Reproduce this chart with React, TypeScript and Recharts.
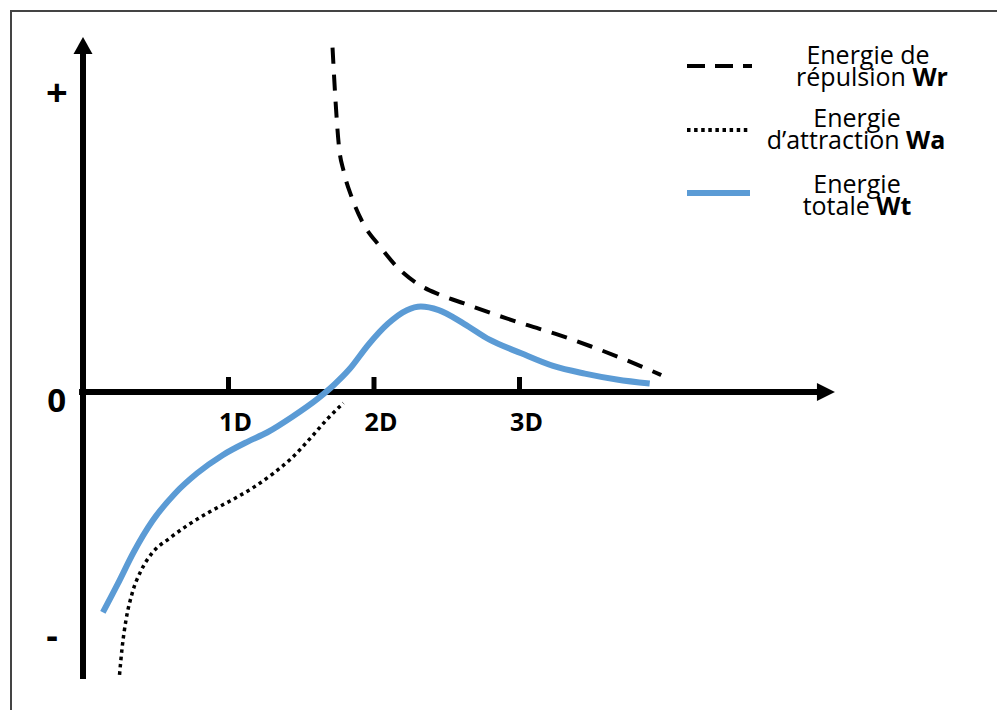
import { LineChart, Line, XAxis, YAxis, ReferenceLine, ReferenceDot } from 'recharts'

// distances in units of D, energies in arbitrary units
const repulsion = [
  { x: 1.715, y: 3.444 }, { x: 1.737, y: 2.878 }, { x: 1.758, y: 2.471 }, { x: 1.793, y: 2.199 },
  { x: 1.846, y: 1.95 }, { x: 1.92, y: 1.701 }, { x: 2.043, y: 1.452 }, { x: 2.16, y: 1.248 },
  { x: 2.292, y: 1.089 }, { x: 2.445, y: 0.976 }, { x: 2.619, y: 0.886 }, { x: 2.838, y: 0.772 },
  { x: 3.056, y: 0.668 }, { x: 3.274, y: 0.569 }, { x: 3.493, y: 0.455 }, { x: 3.733, y: 0.319 },
  { x: 3.974, y: 0.17 },
]

const attraction = [
  { x: 0.251, y: -2.828 }, { x: 0.269, y: -2.556 }, { x: 0.295, y: -2.285 }, { x: 0.338, y: -2.013 },
  { x: 0.399, y: -1.787 }, { x: 0.478, y: -1.605 }, { x: 0.588, y: -1.47 }, { x: 0.718, y: -1.334 },
  { x: 0.871, y: -1.198 }, { x: 1.046, y: -1.062 }, { x: 1.177, y: -0.949 }, { x: 1.309, y: -0.813 },
  { x: 1.439, y: -0.654 }, { x: 1.57, y: -0.45 }, { x: 1.68, y: -0.269 }, { x: 1.789, y: -0.111 },
]

const total = [
  { x: 0.137, y: -2.203 }, { x: 0.238, y: -1.922 }, { x: 0.347, y: -1.605 }, { x: 0.478, y: -1.288 },
  { x: 0.631, y: -1.017 }, { x: 0.784, y: -0.813 }, { x: 0.959, y: -0.632 }, { x: 1.133, y: -0.496 },
  { x: 1.265, y: -0.405 }, { x: 1.439, y: -0.247 }, { x: 1.614, y: -0.066 }, { x: 1.724, y: 0.07 },
  { x: 1.832, y: 0.229 }, { x: 1.964, y: 0.478 }, { x: 2.095, y: 0.682 }, { x: 2.226, y: 0.818 },
  { x: 2.322, y: 0.854 }, { x: 2.445, y: 0.818 }, { x: 2.619, y: 0.682 }, { x: 2.794, y: 0.523 },
  { x: 3.012, y: 0.387 }, { x: 3.231, y: 0.261 }, { x: 3.449, y: 0.184 }, { x: 3.668, y: 0.125 },
  { x: 3.895, y: 0.084 },
]

const xTicks = [1, 2, 3]
const xTickLabels = ['1D', '2D', '3D']

const signLabels = [
  { x: -0.18, y: 3.0, text: '+', size: 38 },
  { x: -0.18, y: -0.08, text: '0', size: 33 },
  { x: -0.213, y: -2.43, text: '-', size: 36 },
]

const FONT = '"Open Sans", "Noto Sans", sans-serif'
const BLUE = '#5b9bd5'

function XArrow(props: any) {
  const { cx, cy } = props
  return <polygon points={`${cx},${cy} ${cx - 18},${cy - 9} ${cx - 18},${cy + 9}`} fill="#000" />
}

function YArrow(props: any) {
  const { cx, cy } = props
  return <polygon points={`${cx},${cy} ${cx - 9.5},${cy + 17} ${cx + 9.5},${cy + 17}`} fill="#000" />
}

// legend drawn as an overlay so it does not eat into the plot area
function EnergyLegend() {
  return (
    <svg width={320} height={200} style={{ position: 'absolute', left: 670, top: 30 }}>
      <g transform="translate(-670,-30)" fontFamily={FONT} fontSize={25} fill="#000" textAnchor="middle">
        <line x1={687} y1={66} x2={752} y2={66} stroke="#000" strokeWidth={4} strokeDasharray="18 10" />
        <line x1={687} y1={130} x2={748} y2={130} stroke="#000" strokeWidth={4} strokeDasharray="3.5 3.6" />
        <line x1={687} y1={193} x2={750} y2={193} stroke={BLUE} strokeWidth={6} />
        <text x={868} y={64}>Energie de</text>
        <text x={872} y={86}>répulsion <tspan fontWeight="bold">Wr</tspan></text>
        <text x={857} y={127}>Energie</text>
        <text x={856} y={149}>d’attraction <tspan fontWeight="bold">Wa</tspan></text>
        <text x={857} y={193}>Energie</text>
        <text x={857} y={215}>totale <tspan fontWeight="bold">Wt</tspan></text>
      </g>
    </svg>
  )
}

export default function App() {
  return (
    <div style={{ position: 'absolute', left: 0, top: 0, width: 997, height: 710, background: '#fff', overflow: 'hidden' }}>
      <div style={{ position: 'absolute', left: 10, top: 10, right: -10, bottom: -10, borderTop: '2px solid #444', borderLeft: '2px solid #444' }} />
      <div style={{ position: 'absolute', left: 0, top: 0 }}>
        <LineChart width={997} height={710} margin={{ top: 32, right: 142.85, bottom: 18, left: 10.25 }}>
          <XAxis type="number" dataKey="x" domain={[-0.5, 5.3]} allowDataOverflow hide />
          <YAxis type="number" dataKey="y" domain={[-3, 3.6]} allowDataOverflow hide />

          <ReferenceLine segment={[{ x: -0.027, y: 0 }, { x: 5.05, y: 0 }]} stroke="#000" strokeWidth={6} />
          <ReferenceLine segment={[{ x: 0, y: -2.87 }, { x: 0, y: 3.4 }]} stroke="#000" strokeWidth={6} />
          <ReferenceDot x={5.168} y={0} ifOverflow="visible" shape={XArrow} />
          <ReferenceDot x={0} y={3.55} ifOverflow="visible" shape={YArrow} />

          {xTicks.map(t => (
            <ReferenceLine key={'t' + t} segment={[{ x: t, y: 0 }, { x: t, y: 0.15 }]} stroke="#000" strokeWidth={5} />
          ))}
          {xTicks.map((t, i) => (
            <ReferenceDot
              key={'l' + t}
              x={t}
              y={-0.3}
              ifOverflow="visible"
              shape={(p: any) => (
                <text x={p.cx + 7} y={p.cy} dy="0.35em" textAnchor="middle" fontFamily={FONT} fontWeight="bold" fontSize={25}>
                  {xTickLabels[i]}
                </text>
              )}
            />
          ))}
          {signLabels.map(s => (
            <ReferenceDot
              key={s.text}
              x={s.x}
              y={s.y}
              ifOverflow="visible"
              shape={(p: any) => (
                <text x={p.cx} y={p.cy} dy="0.36em" textAnchor="middle" fontFamily={FONT} fontWeight="bold" fontSize={s.size}>
                  {s.text}
                </text>
              )}
            />
          ))}

          <Line data={repulsion} dataKey="y" type="monotone" stroke="#000" strokeWidth={4} strokeDasharray="16 11" dot={false} isAnimationActive={false} />
          <Line data={attraction} dataKey="y" type="monotone" stroke="#000" strokeWidth={3.5} strokeDasharray="3.5 3.8" dot={false} isAnimationActive={false} />
          <Line data={total} dataKey="y" type="monotone" stroke={BLUE} strokeWidth={6} dot={false} isAnimationActive={false} />
        </LineChart>
      </div>
      <EnergyLegend />
    </div>
  )
}
